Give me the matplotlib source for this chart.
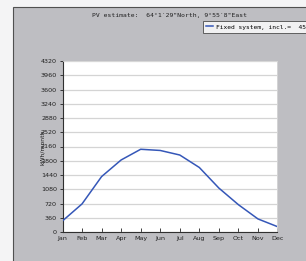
import matplotlib
matplotlib.use("Agg")
import matplotlib.pyplot as plt
from matplotlib.patches import Rectangle

months = ["Jan", "Feb", "Mar", "Apr", "May", "Jun",
          "Jul", "Aug", "Sep", "Oct", "Nov", "Dec"]
pv_kwh = [280, 710, 1400, 1820, 2090, 2060, 1945, 1630, 1110, 690, 330, 135]
y_ticks = list(range(0, 4321, 360))

title = "PV estimate:  64\u00b01\u203229\"North, 9\u00b055\u20328\"East"
legend_label = "Fixed system, incl.=  45"

W, H = 306, 261
fig = plt.figure(figsize=(W / 100, H / 100), dpi=100)
fig.patch.set_facecolor("#f4f4f5")

# grey panel with dark frame, running off the right/bottom edges
fig.patches.append(Rectangle((12.5 / W, -0.1), 1.2, (H - 7) / H + 0.1,
                             transform=fig.transFigure, facecolor="#bebec2",
                             edgecolor="#505050", lw=0.8, zorder=-5))

ax = fig.add_axes([62.5 / W, 29 / H, 215 / W, 171 / H])
ax.set_zorder(2)
ax.set_facecolor("white")
ax.plot(range(len(months)), pv_kwh, color="#3557b8", lw=1.1, zorder=3)

ax.set_xlim(0, len(months) - 1)
ax.set_ylim(0, 4320)
ax.set_xticks(range(len(months)))
ax.set_xticklabels(months)
ax.set_yticks(y_ticks)
ax.yaxis.grid(True, color="#d4d4d4", lw=0.9)
ax.set_axisbelow(True)

for s in ["top", "right"]:
    ax.spines[s].set_color("#d8d8d8")
    ax.spines[s].set_linewidth(0.6)
for s in ["left", "bottom"]:
    ax.spines[s].set_color("#303030")
    ax.spines[s].set_linewidth(0.8)

ax.tick_params(axis="x", direction="in", length=3, width=0.6, pad=3,
               labelsize=4.6, colors="#202020")
ax.tick_params(axis="y", direction="out", length=2.5, width=0.6, pad=1.5,
               labelsize=4.6, colors="#202020")

fig.text(42 / W, 1 - 147 / H, "kWh/month", rotation=90, ha="center",
         va="center", fontsize=4.4, color="#202020", zorder=5)

fig.text(169 / W, 1 - 15 / H, title, ha="center", va="center",
         family="DejaVu Sans Mono", fontsize=4.6, color="#202020")

leg = fig.legend(handles=ax.lines, labels=[legend_label], loc="upper left",
                 bbox_to_anchor=(202.5 / W, 1 - 21 / H), frameon=True,
                 fancybox=False, shadow=False, handlelength=1.2,
                 handletextpad=0.4, borderpad=0.5, borderaxespad=0,
                 prop={"family": "DejaVu Sans Mono", "size": 4.5})
leg.get_frame().set_edgecolor("#404040")
leg.get_frame().set_linewidth(0.7)
leg.set_zorder(6)

fig.savefig("out.png", dpi=100)
